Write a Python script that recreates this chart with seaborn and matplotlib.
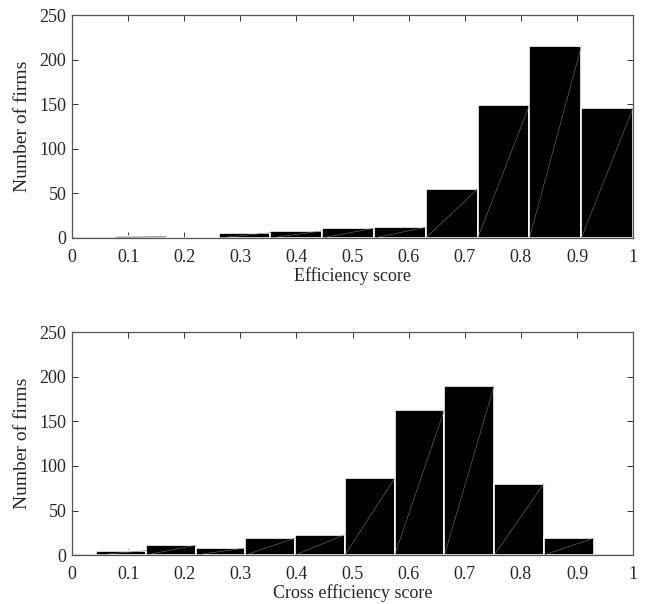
import numpy as np
import pandas as pd
import matplotlib
matplotlib.use("Agg")
import matplotlib.pyplot as plt
import seaborn as sns

# bin edges and counts
eff_edges = [0.0766, 0.169, 0.2613, 0.3537, 0.446, 0.5383, 0.6307, 0.723, 0.8153, 0.9077, 1.0]
eff_counts = [2, 0, 6, 8, 11, 12, 55, 149, 215, 146]

cross_edges = [0.0428, 0.1315, 0.2202, 0.3089, 0.3976, 0.4863, 0.575, 0.6637, 0.7524, 0.8411, 0.9298]
cross_counts = [5, 11, 8, 19, 23, 86, 163, 190, 80, 19]

x_ticks = [0, 0.1, 0.2, 0.3, 0.4, 0.5, 0.6, 0.7, 0.8, 0.9, 1]
x_ticklabels = ["0", "0.1", "0.2", "0.3", "0.4", "0.5", "0.6", "0.7", "0.8", "0.9", "1"]
y_ticks = [0, 50, 100, 150, 200, 250]

sns.set_style("ticks")
plt.rcParams["font.family"] = ["Liberation Serif", "DejaVu Serif"]
plt.rcParams["font.size"] = 13

fig = plt.figure(figsize=(6.45, 6.04), dpi=100)
ax1 = fig.add_axes([0.1116, 0.606, 0.870, 0.369])
ax2 = fig.add_axes([0.1116, 0.081, 0.870, 0.369])

panels = [
    (ax1, eff_edges, eff_counts, "Efficiency score"),
    (ax2, cross_edges, cross_counts, "Cross efficiency score"),
]

for ax, edges, counts, xlabel in panels:
    centers = [(a + b) / 2 for a, b in zip(edges[:-1], edges[1:])]
    df = pd.DataFrame({"score": centers, "n": counts})
    sns.histplot(data=df, x="score", weights="n", bins=edges, ax=ax,
                 color="black", alpha=1, edgecolor="white", linewidth=1.2)
    # faint diagonal seam inside each bar (as in the original rendering)
    for p in ax.patches:
        x0, y0 = p.get_x(), p.get_y()
        w, h = p.get_width(), p.get_height()
        if h > 0:
            ax.plot([x0, x0 + w], [y0, y0 + h], color="#777777", lw=0.4, zorder=3)
    ax.axhline(0, color="#777777", lw=1.0, zorder=0)
    ax.set_xlim(0, 1)
    ax.set_ylim(0, 250)
    ax.set_xticks(x_ticks)
    ax.set_xticklabels(x_ticklabels)
    ax.set_yticks(y_ticks)
    ax.set_xlabel(xlabel, labelpad=1)
    ax.set_ylabel("Number of firms", labelpad=6, fontsize=14)
    ax.tick_params(direction="in", top=True, right=True, length=4, width=0.7,
                   color="#333333")
    ax.tick_params(axis="x", pad=8)
    ax.tick_params(axis="y", pad=4)
    for s in ax.spines.values():
        s.set_visible(True)
        s.set_color("#555555")
        s.set_linewidth(0.9)

fig.savefig("out.png", dpi=100)
